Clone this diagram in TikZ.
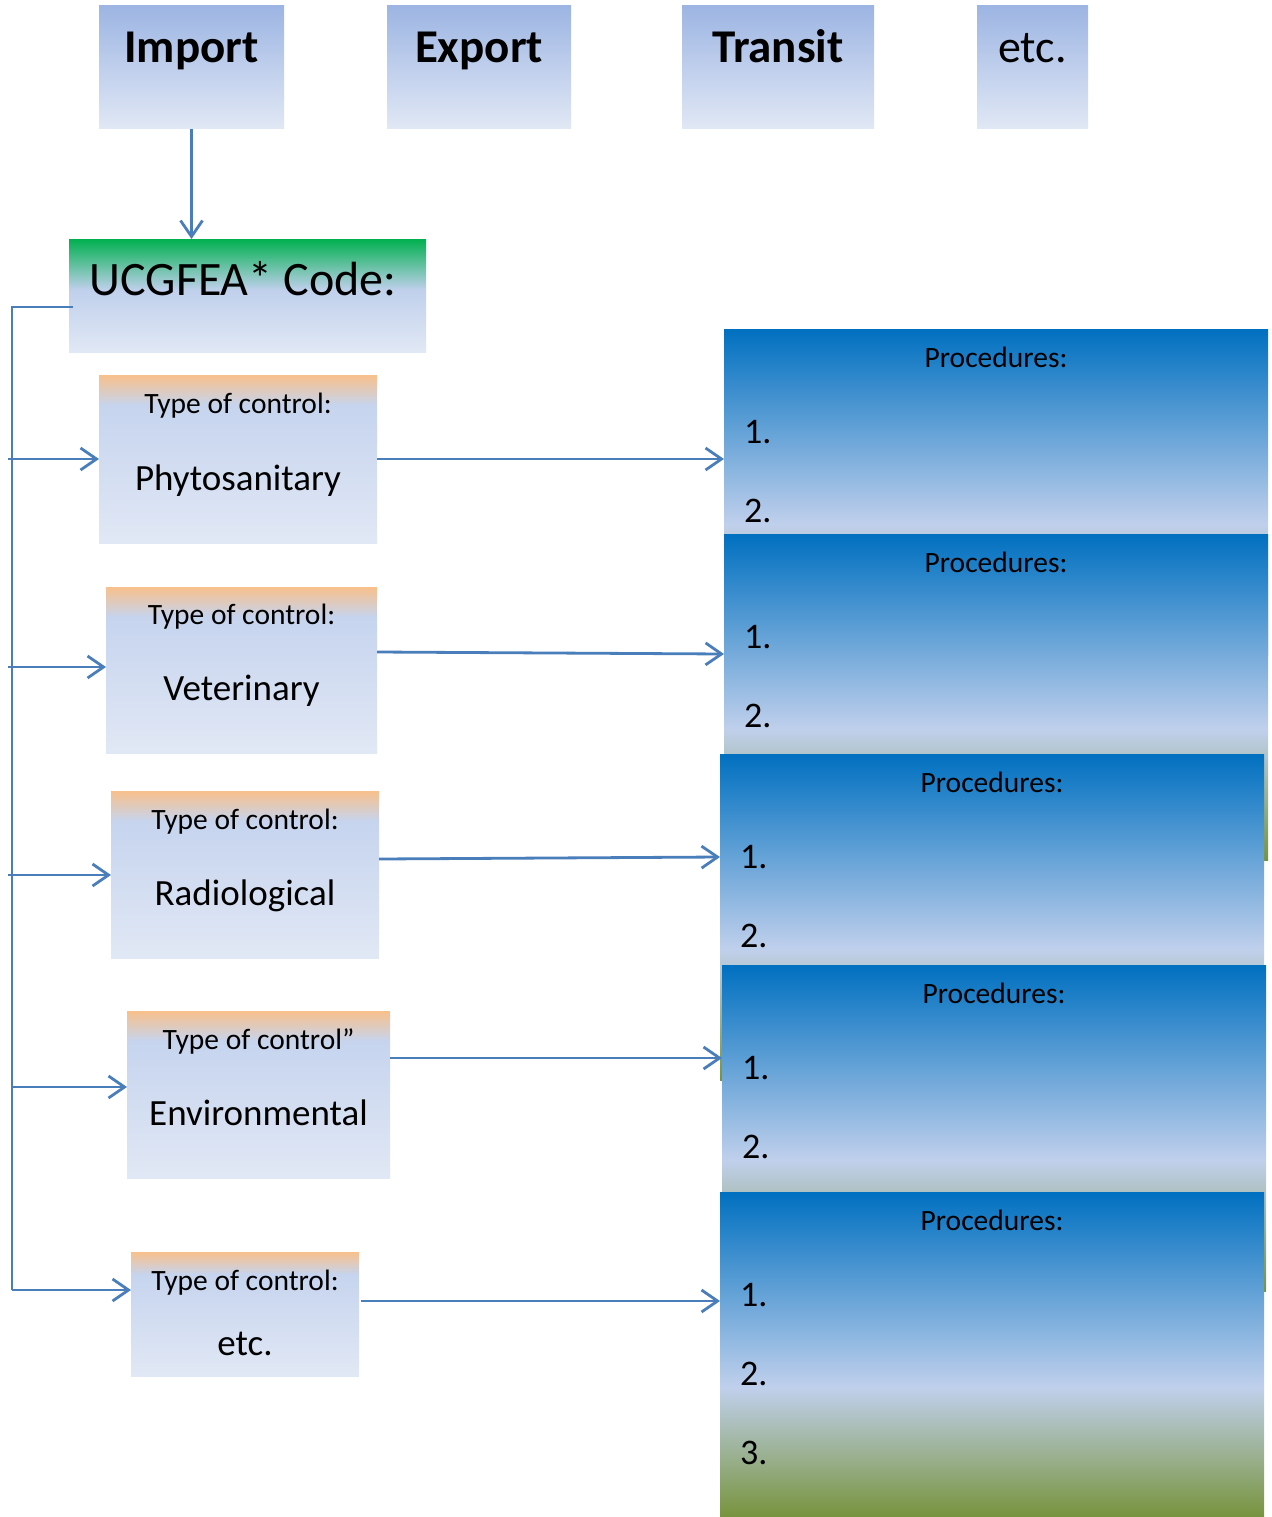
\documentclass[tikz,border=0pt]{standalone}
\usepackage{fontspec}
\setmainfont{Carlito}
\usetikzlibrary{arrows.meta}
\definecolor{ln}{HTML}{4A7EBB}
\definecolor{skyD}{HTML}{0070C0}
\definecolor{skyL}{HTML}{C0D0EC}
\definecolor{olv}{HTML}{77933C}
\definecolor{grn}{HTML}{00B050}
\definecolor{paleB}{HTML}{E1E8F5}
\definecolor{topB}{HTML}{9DB5E3}
\definecolor{peach}{HTML}{F8C08C}
\definecolor{midB}{HTML}{C6D4EE}
\pgfdeclareverticalshading{skyfill}{100bp}{color(0bp)=(olv); color(25bp)=(olv); color(45bp)=(skyL); color(75bp)=(skyD); color(100bp)=(skyD)}
\pgfdeclareverticalshading{ucgfill}{100bp}{color(0bp)=(paleB); color(25bp)=(paleB); color(52.5bp)=(skyL); color(75bp)=(grn); color(100bp)=(grn)}
\pgfdeclareverticalshading{topfill}{100bp}{color(0bp)=(paleB); color(25bp)=(paleB); color(75bp)=(topB); color(100bp)=(topB)}
\pgfdeclareverticalshading{typefill}{100bp}{color(0bp)=(paleB); color(25bp)=(paleB); color(66bp)=(midB); color(75bp)=(peach); color(100bp)=(peach)}
\tikzset{
  boxbase/.style={rectangle, inner sep=0pt, outer sep=0pt, anchor=north west, shade},
  topbox/.style={boxbase, shading=topfill, minimum height=123pt},
  ucgbox/.style={boxbase, shading=ucgfill},
  typebox/.style={boxbase, shading=typefill},
  procbox/.style={boxbase, shading=skyfill, minimum width=544pt, minimum height=326pt},
  lbl/.style={anchor=base, inner sep=0pt},
  numlbl/.style={anchor=base west, inner sep=0pt, font=\fontsize{36}{40}\selectfont},
  big/.style={font=\fontsize{48}{52}\selectfont},
  bigb/.style={font=\bfseries\fontsize{47}{51}\selectfont},
  mid/.style={font=\fontsize{37}{41}\selectfont},
  small/.style={font=\fontsize{29.5}{34}\selectfont},
  bus/.style={draw=ln, line width=2.8pt},
  conn/.style={draw=ln, line width=2.8pt, -{Straight Barb[length=16pt,width=22pt]}},
}
\begin{document}
\begin{tikzpicture}[x=1pt,y=-1pt]
\useasboundingbox (0,0) rectangle (1271,1517);
% top boxes
\node[topbox, minimum width=185pt] (imp) at (99,6) {};
\node[topbox, minimum width=184pt] (exp) at (387,6) {};
\node[topbox, minimum width=192pt] (tra) at (682,6) {};
\node[topbox, minimum width=111pt] (etc) at (977,6) {};
\node[lbl, bigb] (timp) at (191.5,63) {Import};
\node[lbl, bigb] (texp) at (479,63) {Export};
\node[lbl, bigb] (ttra) at (778,63) {Transit};
\node[lbl, font=\fontsize{46}{50}\selectfont] (tetc) at (1032.5,63) {etc.};
% UCGFEA
\node[ucgbox, minimum width=357pt, minimum height=113pt] (ucg) at (69,239) {};
\node[lbl, big] (tucg) at (243,295) {UCGFEA* Code:};
% type boxes
\node[typebox, minimum width=278pt, minimum height=168pt] (t1) at (99,375) {};
\node[typebox, minimum width=271pt, minimum height=166pt] (t2) at (106,587) {};
\node[typebox, minimum width=268pt, minimum height=167pt] (t3) at (111,791) {};
\node[typebox, minimum width=263pt, minimum height=167pt] (t4) at (127,1011) {};
\node[typebox, minimum width=228pt, minimum height=124pt] (t5) at (131,1252) {};
\node[lbl, small] (t1a) at (238,413) {Type of control:};
\node[lbl, mid] (t1b) at (238,490) {Phytosanitary};
\node[lbl, small] (t2a) at (241.5,624) {Type of control:};
\node[lbl, mid] (t2b) at (241.5,700) {Veterinary};
\node[lbl, small] (t3a) at (245,829) {Type of control:};
\node[lbl, mid] (t3b) at (245,905) {Radiological};
\node[lbl, small] (t4a) at (258.5,1049) {Type of control”};
\node[lbl, mid] (t4b) at (258.5,1125) {Environmental};
\node[lbl, small] (t5a) at (245,1290) {Type of control:};
\node[lbl, mid] (t5b) at (245,1355) {etc.};
% procedure boxes
\foreach \n/\x/\y in {1/724/329, 2/724/534, 3/720/754, 4/722/965, 5/720/1192}{
  \node[procbox] (p\n) at (\x,\y) {};
  \node[lbl, small] (p\n h) at (\x+272,\y+38) {Procedures:};
  \node[numlbl] (p\n a) at (\x+20,\y+114) {1.};
  \node[numlbl] (p\n b) at (\x+20,\y+193) {2.};
}
\node[numlbl] (p5c) at (740,1464) {3.};
% connectors
\draw[conn] (imp.south) -- (imp.south |- ucg.north);
\coordinate (busTop) at (12,307);
\coordinate (busBot) at (12,1290);
\draw[bus] ([xshift=4pt]ucg.west |- busTop) -- (busTop) -- (busBot);
\coordinate (br1) at (8,459);
\coordinate (br2) at (8,667);
\coordinate (br3) at (8,875);
\coordinate (br4) at (12,1087);
\coordinate (br5) at (12,1290);
\draw[conn] (br1) -- (t1.west |- br1);
\draw[conn] (br2) -- (t2.west |- br2);
\draw[conn] (br3) -- (t3.west |- br3);
\draw[conn] (br4) -- (t4.west |- br4);
\draw[conn] (br5) -- (t5.west |- br5);
\draw[conn] (t1.east |- 0,459) -- (p1.west |- 0,459);
\draw[conn] (t2.east |- 0,652) -- (p2.west |- 0,654);
\draw[conn] (t3.east |- 0,859) -- (p3.west |- 0,857);
\draw[conn] (t4.east |- 0,1058) -- (p4.west |- 0,1058);
\draw[conn] ([xshift=2pt]t5.east |- 0,1301) -- (p5.west |- 0,1301);
\end{tikzpicture}
\end{document}
